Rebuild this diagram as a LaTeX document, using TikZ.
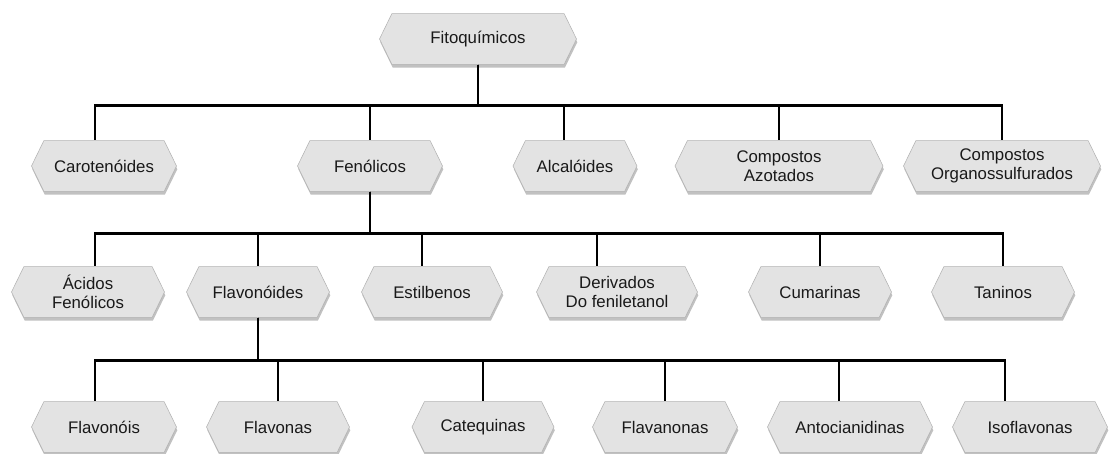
\documentclass[tikz,border=0pt]{standalone}
\usepackage{fontspec}
\setmainfont{Liberation Sans}
\usetikzlibrary{shapes.symbols,shadows}
\tikzset{hexa/.style={signal, signal to=west and east, signal pointer angle=128,
           draw=black!30, fill=black!11, minimum height=38pt, inner sep=2pt, align=center,
           font=\fontsize{12.6}{14.5}\selectfont, text=black!90,
           drop shadow={shadow xshift=0.6pt, shadow yshift=-2.4pt, opacity=0.35, fill=black!70}},
         wd/.style={minimum width=#1*0.75pt},
         link/.style={black, line width=2.1pt}}

\begin{document}
\begin{tikzpicture}[x=0.75pt,y=-0.75pt]
  \useasboundingbox (0,0) rectangle (1116,453);
  % top
  \node[hexa,wd=197] (fito) at (478,39) {Fitoquímicos};
  % first row
  \node[hexa,wd=145] (caro) at (104,166) {Carotenóides};
  \node[hexa,wd=145] (fen)  at (370,166) {Fenólicos};
  \node[hexa,wd=124] (alc)  at (575,166) {Alcalóides};
  \node[hexa,wd=208] (azo)  at (779,166) {Compostos\\Azotados};
  \node[hexa,wd=197] (org)  at (1002,166) {Compostos\\Organossulfurados};
  % second row
  \node[hexa,wd=153] (acid) at (88,292)  {Ácidos\\Fenólicos};
  \node[hexa,wd=143] (flav) at (258,292) {Flavonóides};
  \node[hexa,wd=141] (est)  at (432,292) {Estilbenos};
  \node[hexa,wd=161] (der)  at (617,292) {Derivados\\Do feniletanol};
  \node[hexa,wd=143] (cum)  at (820,292) {Cumarinas};
  \node[hexa,wd=143] (tan)  at (1003,292) {Taninos};
  % third row
  \node[hexa,wd=145] (fnl) at (104,427)  {Flavonóis};
  \node[hexa,wd=143] (fna) at (278,427)  {Flavonas};
  \node[hexa,wd=142] (cat) at (483,427)  {Catequinas};
  \node[hexa,wd=145] (fan) at (665,427)  {Flavanonas};
  \node[hexa,wd=165] (ant) at (850,427)  {Antocianidinas};
  \node[hexa,wd=155] (iso) at (1030,427) {Isoflavonas};

  % tree lines
  \foreach \n/\dx in {caro/-9, fen/0, alc/-11, azo/0, org/0}
    \draw[link] (fito.south) -- ++(0,41) -| ([xshift=\dx*0.75pt]\n.north);
  \foreach \n/\dx in {acid/7, flav/0, est/-10, der/-20, cum/0, tan/0}
    \draw[link] (fen.south) -- ++(0,42) -| ([xshift=\dx*0.75pt]\n.north);
  \foreach \n/\dx in {fnl/-9, fna/0, cat/0, fan/0, ant/-11, iso/-25}
    \draw[link] (flav.south) -- ++(0,43) -| ([xshift=\dx*0.75pt]\n.north);
\end{tikzpicture}
\end{document}
